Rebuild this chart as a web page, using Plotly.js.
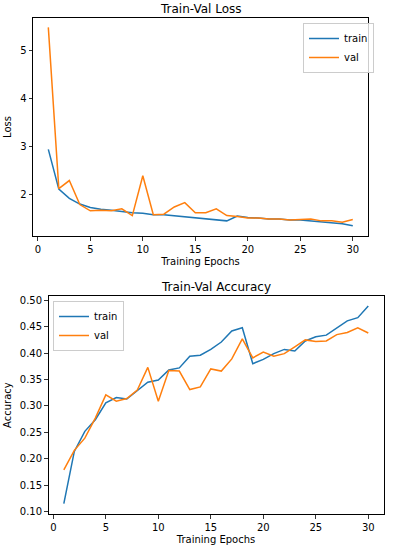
<!DOCTYPE html>
<html>
<head>
<meta charset="utf-8">
<script src="https://cdn.plot.ly/plotly-3.0.1.min.js"></script>
<style>html,body{margin:0;padding:0;background:#fff;}#chart{width:399px;height:547px;}</style>
</head>
<body>
<div id="chart"></div>
<script>
const epochs = [1,2,3,4,5,6,7,8,9,10,11,12,13,14,15,16,17,18,19,20,21,22,23,24,25,26,27,28,29,30];
const trainLoss = [2.94,2.11,1.92,1.80,1.73,1.69,1.67,1.64,1.62,1.61,1.58,1.58,1.56,1.53,1.52,1.50,1.47,1.45,1.55,1.52,1.51,1.49,1.49,1.47,1.47,1.45,1.43,1.41,1.39,1.35];
const valLoss = [5.48,2.12,2.29,1.79,1.66,1.67,1.66,1.70,1.56,2.39,1.58,1.59,1.74,1.83,1.62,1.62,1.70,1.56,1.54,1.51,1.51,1.49,1.49,1.47,1.48,1.49,1.45,1.45,1.42,1.48];
const trainAcc = [0.115,0.214,0.252,0.274,0.306,0.316,0.313,0.329,0.345,0.349,0.368,0.372,0.394,0.396,0.407,0.421,0.442,0.448,0.380,0.388,0.399,0.407,0.404,0.423,0.431,0.434,0.448,0.461,0.467,0.489];
const valAcc = [0.179,0.216,0.239,0.277,0.321,0.309,0.314,0.330,0.373,0.309,0.367,0.366,0.331,0.336,0.370,0.366,0.389,0.427,0.391,0.402,0.394,0.399,0.412,0.425,0.422,0.423,0.435,0.439,0.448,0.438];
const seriesNames = ["train","val"];
const lossTicks = [2,3,4,5];
const accTicks = [0.10,0.15,0.20,0.25,0.30,0.35,0.40,0.45,0.50];
const epochTicks = [0,5,10,15,20,25,30];

const blue = "#1f77b4", orange = "#ff7f0e";
const font = {family: "DejaVu Sans, sans-serif", size: 10, color: "#000"};

const traces = [
  {x: epochs, y: trainLoss, name: seriesNames[0], mode: "lines", line: {color: blue, width: 1.5}, xaxis: "x", yaxis: "y", legend: "legend"},
  {x: epochs, y: valLoss, name: seriesNames[1], mode: "lines", line: {color: orange, width: 1.5}, xaxis: "x", yaxis: "y", legend: "legend"},
  {x: epochs, y: trainAcc, name: seriesNames[0], mode: "lines", line: {color: blue, width: 1.5}, xaxis: "x2", yaxis: "y2", legend: "legend2"},
  {x: epochs, y: valAcc, name: seriesNames[1], mode: "lines", line: {color: orange, width: 1.5}, xaxis: "x2", yaxis: "y2", legend: "legend2"}
];

const W = 399, H = 547;
const px = v => v / W, py = v => 1 - v / H;

const axBase = {
  showline: true, mirror: true, linecolor: "#000", linewidth: 1,
  showgrid: false, zeroline: false,
  ticks: "outside", ticklen: 3.5, tickwidth: 0.8, tickcolor: "#000",
  tickfont: font, automargin: false, fixedrange: true
};

const legendBase = {
  bgcolor: "rgba(255,255,255,0.8)", bordercolor: "#cccccc", borderwidth: 1,
  font: {family: font.family, size: 10, color: "#000"},
  xanchor: "left", yanchor: "top", tracegroupgap: 0, itemwidth: 30
};

const layout = {
  width: W, height: H,
  margin: {l: 0, r: 0, t: 0, b: 0},
  paper_bgcolor: "#fff", plot_bgcolor: "#fff",
  font: font,
  showlegend: true,
  xaxis: Object.assign({}, axBase, {
    domain: [px(33.1), px(368)], range: [-0.45, 31.45], anchor: "y",
    tickvals: epochTicks, ticktext: epochTicks.map(String),
    title: {text: "Training Epochs", font: font, standoff: 4}
  }),
  yaxis: Object.assign({}, axBase, {
    domain: [py(236), py(18)], range: [1.135, 5.675], anchor: "x",
    tickvals: lossTicks, ticktext: lossTicks.map(String),
    title: {text: "Loss", font: font, standoff: 6}
  }),
  xaxis2: Object.assign({}, axBase, {
    domain: [px(48.6), px(383.5)], range: [-0.45, 31.45], anchor: "y2",
    tickvals: epochTicks, ticktext: epochTicks.map(String),
    title: {text: "Training Epochs", font: font, standoff: 4}
  }),
  yaxis2: Object.assign({}, axBase, {
    domain: [py(514), py(296.3)], range: [0.0955, 0.5075], anchor: "x2",
    tickvals: accTicks, ticktext: accTicks.map(v => v.toFixed(2)),
    title: {text: "Accuracy", font: font, standoff: 6}
  }),
  legend: Object.assign({}, legendBase, {x: px(303), y: py(23)}),
  legend2: Object.assign({}, legendBase, {x: px(53), y: py(301)}),
  annotations: [
    {text: "Train-Val Loss", xref: "paper", yref: "paper", x: px(200.5), y: py(9), xanchor: "center", yanchor: "middle", showarrow: false, font: {family: font.family, size: 12, color: "#000"}},
    {text: "Train-Val Accuracy", xref: "paper", yref: "paper", x: px(216), y: py(287), xanchor: "center", yanchor: "middle", showarrow: false, font: {family: font.family, size: 12, color: "#000"}}
  ]
};

Plotly.newPlot("chart", traces, layout, {displayModeBar: false, staticPlot: true});
</script>
</body>
</html>
